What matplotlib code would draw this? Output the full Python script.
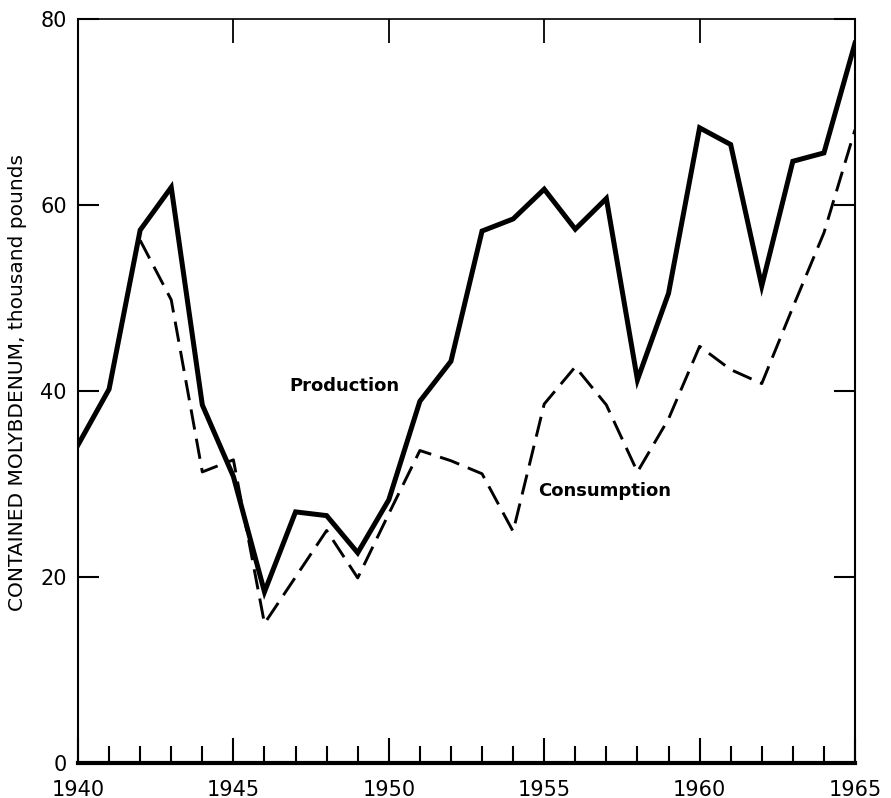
import matplotlib
matplotlib.use("Agg")
import matplotlib.pyplot as plt

years = list(range(1940, 1966))
production = [34.2, 40.2, 57.3, 61.9, 38.5, 30.8, 18.4, 27.0, 26.6, 22.6, 28.3, 38.9,
              43.2, 57.2, 58.5, 61.7, 57.4, 60.7, 41.2, 50.5, 68.3, 66.5, 51.3, 64.7,
              65.6, 77.4]
cons_years = list(range(1942, 1966))
consumption = [56.2, 49.8, 31.3, 32.6, 15.0, 20.0, 25.0, 19.9, 26.8, 33.6, 32.5, 31.1,
               24.9, 38.6, 42.6, 38.5, 31.3, 37.0, 44.8, 42.3, 40.8, 49.0, 57.0, 68.1]

x_major = [1940, 1945, 1950, 1955, 1960, 1965]
y_major = [0, 20, 40, 60, 80]
ylabel = "CONTAINED MOLYBDENUM, thousand pounds"

plt.rcParams['font.family'] = ['DejaVu Sans']

fig = plt.figure(figsize=(8.91, 7.98), dpi=100)
ax = fig.add_axes([78/891, 1 - 763/798, (855-78)/891, (763-19)/798])

ax.plot(years, production, color='black', lw=3.6, solid_joinstyle='miter', zorder=3)
ax.plot(cons_years, consumption, color='black', lw=2.1, dashes=(7, 3.2), zorder=3)

ax.set_xlim(1940, 1965)
ax.set_ylim(0, 80)

ax.spines['left'].set_linewidth(1.5)
ax.spines['right'].set_linewidth(1.5)
ax.spines['top'].set_linewidth(1.2)
ax.spines['bottom'].set_linewidth(3.0)

# bottom ticks: inward, yearly minor, 5-yr major
ax.set_xticks(x_major)
ax.set_xticklabels([str(v) for v in x_major], fontsize=15)
ax.set_xticks(years, minor=True)
ax.tick_params(axis='x', which='major', direction='in', length=18, width=1.5,
               top=False, bottom=True, pad=12)
ax.tick_params(axis='x', which='minor', direction='in', length=12.5, width=1.5,
               top=False, bottom=True)

ax.set_yticks(y_major)
ax.set_yticklabels([str(v) for v in y_major], fontsize=15)
ax.tick_params(axis='y', which='major', direction='in', length=15, width=1.5,
               left=True, right=True, pad=8)

# top ticks at interior 5-yr marks (secondary axis)
ax_top = ax.secondary_xaxis('top')
ax_top.set_xticks(x_major[1:-1])
ax_top.set_xticklabels([])
ax_top.tick_params(direction='in', length=17, width=1.3)
ax_top.spines['top'].set_visible(False)

ax.set_ylabel(ylabel, fontsize=14.5)
ax.yaxis.set_label_coords(-0.066, 0.511)

ax.text(1946.8, 40.5, "Production", fontsize=13, fontweight='bold', ha='left', va='center')
ax.text(1954.8, 29.2, "Consumption", fontsize=13, fontweight='bold', ha='left', va='center')

fig.savefig("out.png", dpi=100)
